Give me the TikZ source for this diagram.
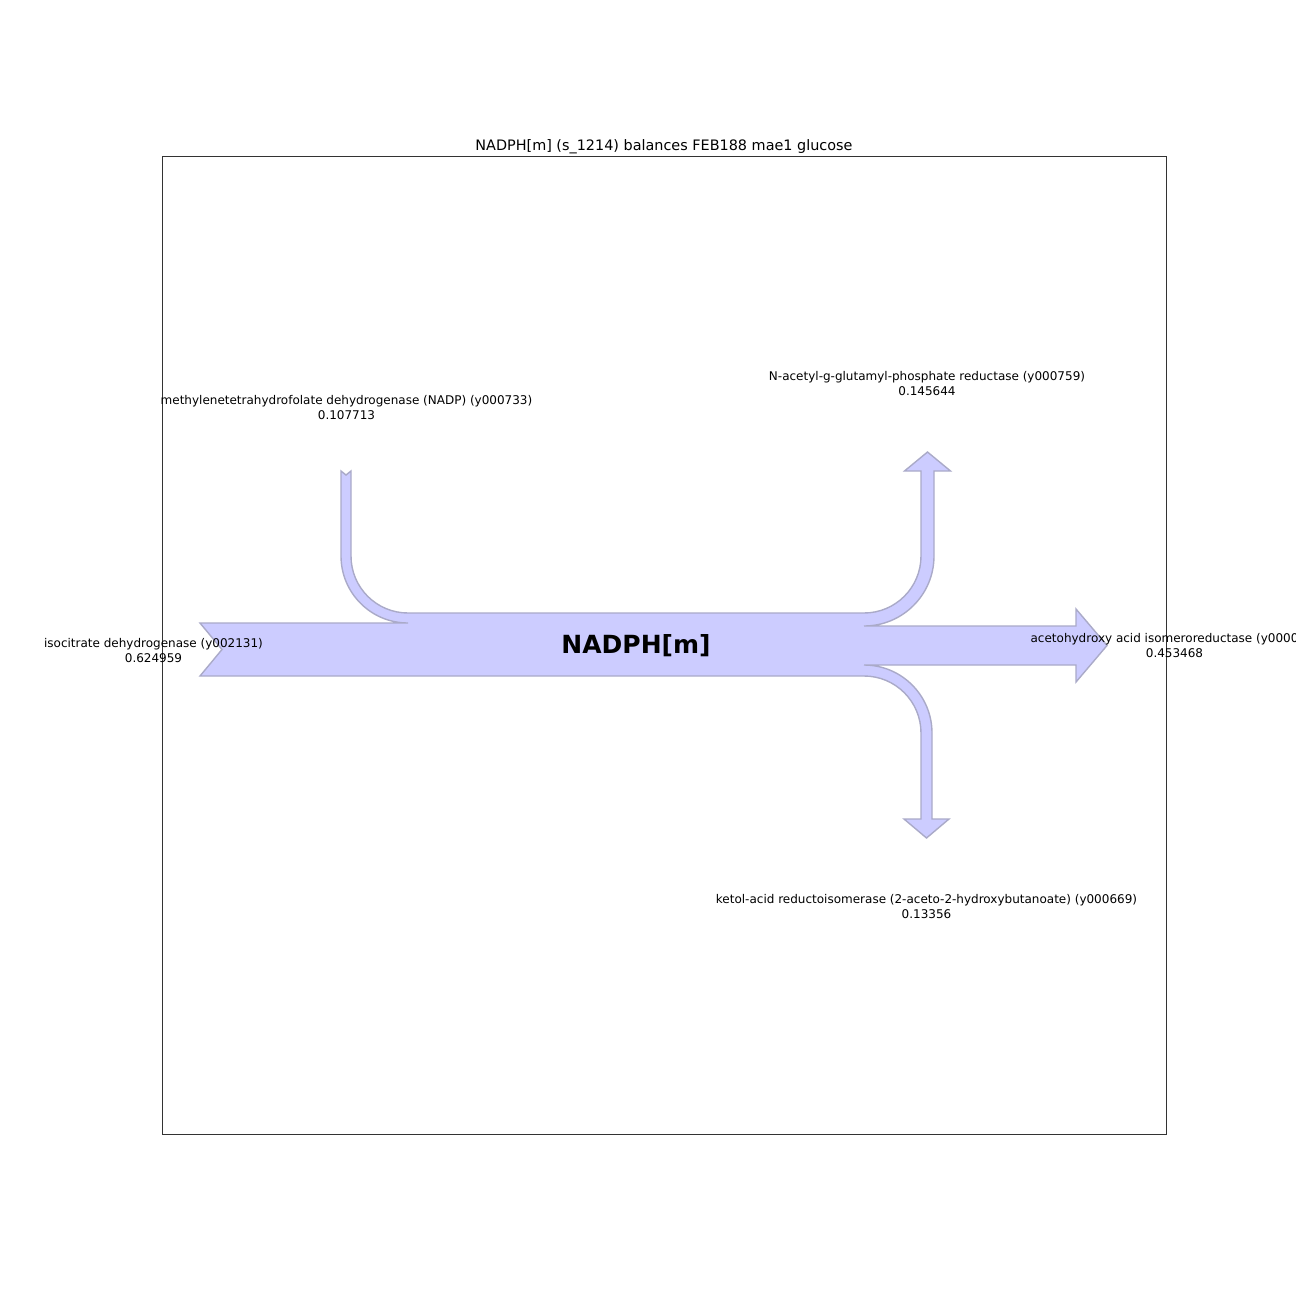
\documentclass[tikz,border=0pt]{standalone}
\usepackage{fontspec}
\setmainfont{DejaVu Sans}
\definecolor{flowfill}{RGB}{204,204,255}
\definecolor{flowedge}{RGB}{170,170,200}
\begin{document}
\begin{tikzpicture}[x=1pt,y=-1pt,
  flow/.style={fill=flowfill,draw=flowedge,line width=1.4pt,line join=miter},
  lbl/.style={inner sep=0pt,align=center,font=\fontsize{12}{15}\selectfont},
  frame/.style={draw=black!80,line width=0.8pt}]
\useasboundingbox (0,0) rectangle (1296,1296);
\clip (0,0) rectangle (1296,1296);
\fill[white] (0,0) rectangle (1296,1296);
\draw[frame] (162,156) rectangle (1166,1134);
\node[inner sep=0pt,font=\fontsize{14.4}{17}\selectfont] (title) at (664,146.5) {NADPH[m] (s\_1214) balances FEB188 mae1 glucose};
% sankey outline
\draw[flow] (200,623) -- (408,623)
  arc[start angle=90,end angle=180,radius=67] -- (341,471) -- (346,475) -- (351,471) -- (351,556)
  arc[start angle=180,end angle=90,radius=57] -- (864,613)
  arc[start angle=90,end angle=0,radius=57] -- (921,471) -- (904.5,471) -- (927.5,452) -- (950.5,471) -- (934,471) -- (934,556)
  arc[start angle=0,end angle=90,radius=70] -- (1076,626) -- (1076,609) -- (1107,645.5) -- (1076,682) -- (1076,665) -- (864,665)
  arc[start angle=-90,end angle=0,radius=68] -- (932,819) -- (949,819) -- (926.5,838) -- (904,819) -- (921,819) -- (921,733)
  arc[start angle=0,end angle=-90,radius=57] -- (200,676) -- (222,649.5) -- cycle;
\node[inner sep=0pt,font=\fontsize{25}{29}\bfseries] (center) at (636,645.5) {NADPH[m]};
\node[lbl] (in1) at (153.5,650.5) {isocitrate dehydrogenase (y002131)\\0.624959};
\node[lbl] (in2) at (346.5,407.5) {methylenetetrahydrofolate dehydrogenase (NADP) (y000733)\\0.107713};
\node[lbl] (out1) at (927,383.5) {N-acetyl-g-glutamyl-phosphate reductase (y000759)\\0.145644};
\node[lbl] (out2) at (1174.5,645.5) {acetohydroxy acid isomeroreductase (y000013)\\0.453468};
\node[lbl] (out3) at (926.5,906.5) {ketol-acid reductoisomerase (2-aceto-2-hydroxybutanoate) (y000669)\\0.13356};
\end{tikzpicture}
\end{document}
